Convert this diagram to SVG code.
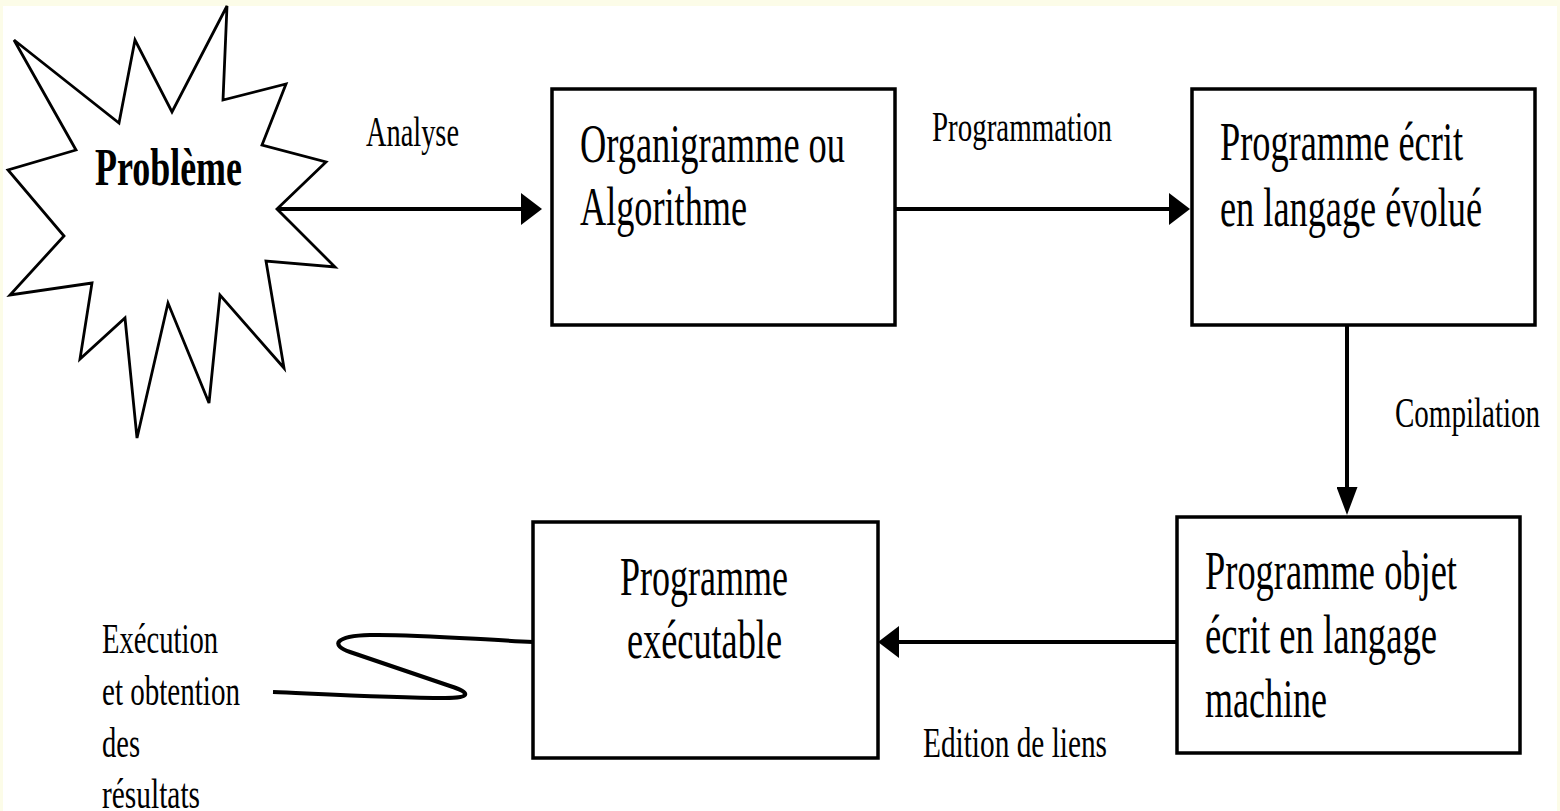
<svg xmlns="http://www.w3.org/2000/svg" width="1560" height="811" viewBox="0 0 1560 811">
<style>
.box{fill:#fff;stroke:#000;stroke-width:3.5}
.t{font-family:"Liberation Serif","Times New Roman",serif;font-size:54px;fill:#000}
.lbl{font-family:"Liberation Serif","Times New Roman",serif;font-size:43px;fill:#000}
.conn{stroke:#000;stroke-width:4;fill:none}
</style>
<defs>
<marker id="ah" markerUnits="userSpaceOnUse" markerWidth="21" markerHeight="32" refX="3" refY="16" orient="auto" viewBox="0 0 21 32">
<path d="M0,0 L21,16 L0,32 z" fill="#000"/>
</marker>
<marker id="av" markerUnits="userSpaceOnUse" markerWidth="28" markerHeight="21" refX="3" refY="10.5" orient="auto" viewBox="0 0 28 21">
<path d="M0,0 L28,10.5 L0,21 z" fill="#000"/>
</marker>
</defs>
<rect x="0" y="0" width="1560" height="811" fill="#fcfce8"/>
<rect x="3" y="6" width="1554" height="805" fill="#fff"/>

<g id="connectors">
<line class="conn" x1="277" y1="209" x2="524" y2="209" marker-end="url(#ah)"/>
<line class="conn" x1="895" y1="209" x2="1172" y2="209" marker-end="url(#ah)"/>
<line class="conn" x1="1347" y1="325" x2="1347" y2="490" stroke-width="3.5" marker-end="url(#av)"/>
<line class="conn" x1="1177" y1="642" x2="896" y2="642" marker-end="url(#ah)"/>
<path class="conn" stroke-width="3" d="M533,642 C470,639 410,634 370,635 C335,636 330,645 350,652 L450,686 C472,693 470,698 445,698 C390,698 320,694 273,692"/>
<text class="lbl" x="366" y="146" textLength="93" lengthAdjust="spacingAndGlyphs">Analyse</text>
<text class="lbl" x="932" y="141" textLength="180" lengthAdjust="spacingAndGlyphs">Programmation</text>
<text class="lbl" x="1395" y="427" textLength="145" lengthAdjust="spacingAndGlyphs">Compilation</text>
<text class="lbl" x="923" y="757" textLength="184" lengthAdjust="spacingAndGlyphs">Edition de liens</text>
<text class="lbl" x="102" y="653" textLength="116" lengthAdjust="spacingAndGlyphs">Exécution</text>
<text class="lbl" x="102" y="705" textLength="138" lengthAdjust="spacingAndGlyphs">et obtention</text>
<text class="lbl" x="102" y="757" textLength="38" lengthAdjust="spacingAndGlyphs">des</text>
<text class="lbl" x="102" y="808" textLength="98" lengthAdjust="spacingAndGlyphs">résultats</text>
</g>

<g id="probleme">
<polygon fill="#fff" stroke="#000" stroke-width="2.8" stroke-linejoin="miter" points="227,6 223,100 286,84 262,145 326,162 277,209 335,267 266,261 284,368 220,295 209,403 168,303 137,438 125,318 80,359 92,283 10,295 64,236 8,170 76,150 14,40 119,123 135,40 172,112"/>
<text x="95" y="185" font-family="Liberation Serif,'Times New Roman',serif" font-weight="bold" font-size="52" textLength="147" lengthAdjust="spacingAndGlyphs">Problème</text>
</g>

<g id="organigramme">
<rect class="box" x="552" y="89" width="343" height="236"/>
<text class="t" x="580" y="162" textLength="265" lengthAdjust="spacingAndGlyphs">Organigramme ou</text>
<text class="t" x="580" y="225" textLength="167" lengthAdjust="spacingAndGlyphs">Algorithme</text>
</g>

<g id="programme-evolue">
<rect class="box" x="1192" y="89" width="343" height="236"/>
<text class="t" x="1220" y="160" textLength="243" lengthAdjust="spacingAndGlyphs">Programme écrit</text>
<text class="t" x="1220" y="226" textLength="262" lengthAdjust="spacingAndGlyphs">en langage évolué</text>
</g>

<g id="programme-objet">
<rect class="box" x="1177" y="517" width="343" height="236"/>
<text class="t" x="1205" y="589" textLength="252" lengthAdjust="spacingAndGlyphs">Programme objet</text>
<text class="t" x="1205" y="653" textLength="232" lengthAdjust="spacingAndGlyphs">écrit en langage</text>
<text class="t" x="1205" y="717" textLength="122" lengthAdjust="spacingAndGlyphs">machine</text>
</g>

<g id="programme-executable">
<rect class="box" x="533" y="522" width="345" height="236"/>
<text class="t" x="620" y="595" textLength="168" lengthAdjust="spacingAndGlyphs">Programme</text>
<text class="t" x="627" y="658" textLength="155" lengthAdjust="spacingAndGlyphs">exécutable</text>
</g>
</svg>
